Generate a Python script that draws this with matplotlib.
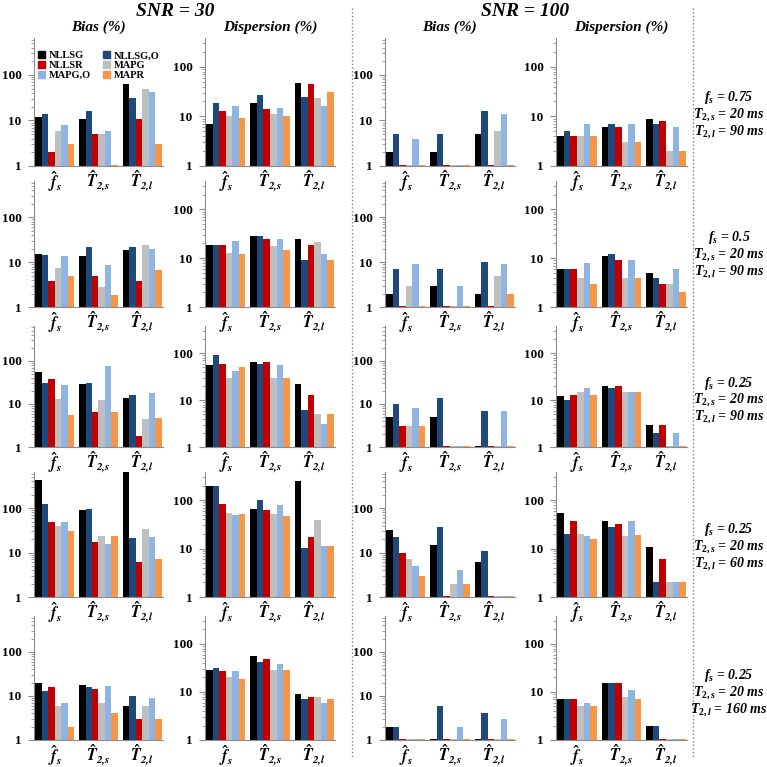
import numpy as np
import matplotlib
matplotlib.use('Agg')
import matplotlib.pyplot as plt
from matplotlib.lines import Line2D
from matplotlib.patches import Patch
from matplotlib.ticker import FixedLocator, LogLocator, NullFormatter, FixedFormatter

plt.rcParams['font.family'] = ['Liberation Serif', 'DejaVu Serif']
plt.rcParams['font.weight'] = 'bold'
plt.rcParams['mathtext.fontset'] = 'custom'
plt.rcParams['mathtext.it'] = 'Liberation Serif:bold:italic'
plt.rcParams['mathtext.rm'] = 'Liberation Serif:bold'
plt.rcParams['mathtext.bf'] = 'Liberation Serif:bold'

series = ['NLLSG', 'NLLSG,O', 'NLLSR', 'MAPG', 'MAPG,O', 'MAPR']
colors = ['#000000', '#1f497d', '#c00000', '#bfbfbf', '#8db4e2', '#f79646']
params = [r'$\widehat{\mathbfit{f}}_{\mathbfit{s}}$',
          r'$\hat{\mathbfit{T}}_{\mathbfit{2,\!s}}$',
          r'$\hat{\mathbfit{T}}_{\mathbfit{2,\!l}}$']
snr_titles = ['SNR = 30', 'SNR = 100']
metrics = ['Bias (%)', 'Dispersion (%)', 'Bias (%)', 'Dispersion (%)']
fs_vals = ['0.75', '0.5', '0.25', '0.25', '0.25']
t2s_vals = ['20', '20', '20', '20', '20']
t2l_vals = ['90', '90', '90', '60', '160']

# each row: 3 parameter groups x 6 methods
bias30 = [
    [[12, 14, 2, 6, 8, 3], [11, 16, 5, 5, 6, 1.05], [63, 32, 11, 48, 42, 3]],
    [[15, 14.3, 3.8, 7.5, 13.6, 4.8], [13.6, 22, 4.8, 2.8, 8.8, 1.9], [19, 22, 3.8, 24, 20, 6.6]],
    [[54, 30, 39, 13, 28, 5.5], [29, 31, 6.5, 12.5, 75, 6.5], [13.5, 16, 1.8, 4.5, 18, 4.8]],
    [[430, 124, 50, 39, 48, 31], [89, 98, 17, 23, 15.7, 24], [900, 21, 6, 34, 22, 7]],
    [[20, 13, 16, 6, 7, 2], [18, 16, 14, 7, 17, 4], [6, 10, 3, 6, 9, 3]],
]
disp30 = [
    [[7, 19, 13, 10, 16, 9.2], [19, 27, 14, 11, 15, 10], [47, 25, 45, 23, 16, 31]],
    [[18.5, 18.5, 18.5, 13, 22, 12.2], [28, 28, 25, 18, 25, 15], [25, 9.2, 18.5, 21, 12, 9.2]],
    [[55, 90, 60, 29, 41, 52], [66, 60, 66, 29, 57, 30], [22, 6.2, 13, 5, 3.1, 5]],
    [[198, 200, 83, 55, 50, 52], [67, 100, 61, 52, 79, 47], [251, 10.5, 17.5, 38, 11.5, 11.5]],
    [[29, 32, 27, 20, 27, 19], [56, 41, 48, 28, 39, 29], [9, 7, 7.9, 7.9, 6, 7]],
]
bias100 = [
    [[2, 5, 1.05, 1.05, 4, 1.05], [2, 5, 1.05, 1.05, 1.05, 1.05], [5, 16, 1.05, 6, 14, 1.05]],
    [[2, 7, 1.05, 3, 9, 1.05], [3, 7, 1.05, 1.05, 3, 1.05], [2, 10, 1.05, 5, 9, 2]],
    [[5, 10, 3, 3, 8, 3], [5, 14, 1.05, 1.05, 1.05, 1.05], [1.05, 7, 1.05, 1.05, 7, 1.05]],
    [[32, 22, 10, 7, 5, 3], [15, 37, 1.05, 2, 4, 2], [6, 11, 1.05, 1.05, 1.05, 1.05]],
    [[2, 2, 1.05, 1.05, 1.05, 1.05], [1.05, 6, 1.05, 1.05, 2, 1.05], [1.05, 4, 1.05, 1.05, 3, 1.05]],
]
disp100 = [
    [[4, 5, 4, 4, 7, 4], [6, 7, 6, 3, 7, 3], [9, 7, 8, 2, 6, 2]],
    [[6, 6, 6, 4, 8, 3], [11, 12, 9, 4, 9, 4], [5, 4, 3, 3, 6, 2]],
    [[12, 10, 13, 15, 18, 13], [20, 18, 20, 15, 15, 15], [3, 2, 3, 1.05, 2, 1.05]],
    [[55, 20, 37, 20, 18, 16], [37, 28, 32, 18, 37, 19], [11, 2, 6, 2, 2, 2]],
    [[7, 7, 7, 5, 6, 5], [15, 15, 15, 8, 11, 7], [2, 2, 1.05, 1.05, 1.05, 1.05]],
]
columns = [bias30, disp30, bias100, disp100]

W = H = 767.0
fig = plt.figure(figsize=(7.67, 7.67), dpi=100)

col_left = [34, 205, 385, 556]
col_w = [129, 130, 130, 131]
row_top = [38, 181, 326, 472, 616]
row_bot = [166, 307, 447, 597, 740]
ytop = [650, 380, 650, 380]

x = np.arange(3)
w = 0.148
gray = '#8c8c8c'

for c, data in enumerate(columns):
    for r in range(5):
        ax = fig.add_axes([col_left[c] / W, 1 - row_bot[r] / H,
                           col_w[c] / W, (row_bot[r] - row_top[r]) / H])
        ax.patch.set_visible(False)
        vals = np.array(data[r])
        for k in range(6):
            ax.bar(x + (k - 2.5) * w, vals[:, k], w, color=colors[k],
                   label=series[k], linewidth=0)
        ax.set_yscale('log')
        ax.set_ylim(1, ytop[c])
        ax.set_xlim(-0.47, 2.47)
        ax.yaxis.set_major_locator(FixedLocator([1, 10, 100]))
        ax.yaxis.set_major_formatter(FixedFormatter(['1', '10', '100']))
        ax.yaxis.set_minor_locator(LogLocator(base=10, subs=np.arange(2, 10)))
        ax.yaxis.set_minor_formatter(NullFormatter())
        ax.tick_params(axis='y', which='major', length=4, color=gray,
                       width=0.8, pad=5, labelsize=9.5)
        ax.tick_params(axis='y', which='minor', length=2.5, color=gray, width=0.6)
        ax.set_xticks(x)
        ax.set_xticklabels(params, fontsize=11.5, math_fontfamily='stix')
        ax.tick_params(axis='x', length=0, pad=2)
        for s in ['top', 'right']:
            ax.spines[s].set_visible(False)
        for s in ['left', 'bottom']:
            ax.spines[s].set_color(gray)
            ax.spines[s].set_linewidth(0.8)
        if r == 0:
            ax.set_title(metrics[c], fontsize=11, fontweight='bold',
                         fontstyle='italic', pad=5)
        if r == 0 and c == 0:
            order = [0, 2, 4, 1, 3, 5]
            handles = [Patch(color=colors[i]) for i in order]
            ax.legend(handles, [series[i] for i in order], ncol=2,
                      loc='upper left', bbox_to_anchor=(0.0, 0.93),
                      frameon=False, fontsize=7.5, handlelength=0.7,
                      handleheight=0.7, handletextpad=0.3,
                      columnspacing=1.2, labelspacing=0.05, borderaxespad=0)

# SNR headers
fig.text(175 / W, 1 - 12 / H, snr_titles[0], ha='center', va='center',
         fontsize=14, fontweight='bold', fontstyle='italic')
fig.text(525 / W, 1 - 12 / H, snr_titles[1], ha='center', va='center',
         fontsize=14, fontweight='bold', fontstyle='italic')

# separators
for xp in [352, 693]:
    fig.add_artist(Line2D([xp / W, xp / W], [1 - 8 / H, 1 - 757 / H],
                          transform=fig.transFigure, color='#808080',
                          linestyle=':', linewidth=1))

# condition labels on the right
row_mid = [115, 255, 400, 547, 693]
for r in range(5):
    lines = [r'$f_s$ = ' + fs_vals[r],
             r'$T_{2,s}$ = ' + t2s_vals[r] + ' ms',
             r'$T_{2,l}$ = ' + t2l_vals[r] + ' ms']
    for i, t in enumerate(lines):
        fig.text(729 / W, 1 - (row_mid[r] + (i - 1) * 17) / H, t,
                 ha='center', va='center', fontsize=10,
                 fontweight='bold', fontstyle='italic')

fig.savefig('out.png', dpi=100)
